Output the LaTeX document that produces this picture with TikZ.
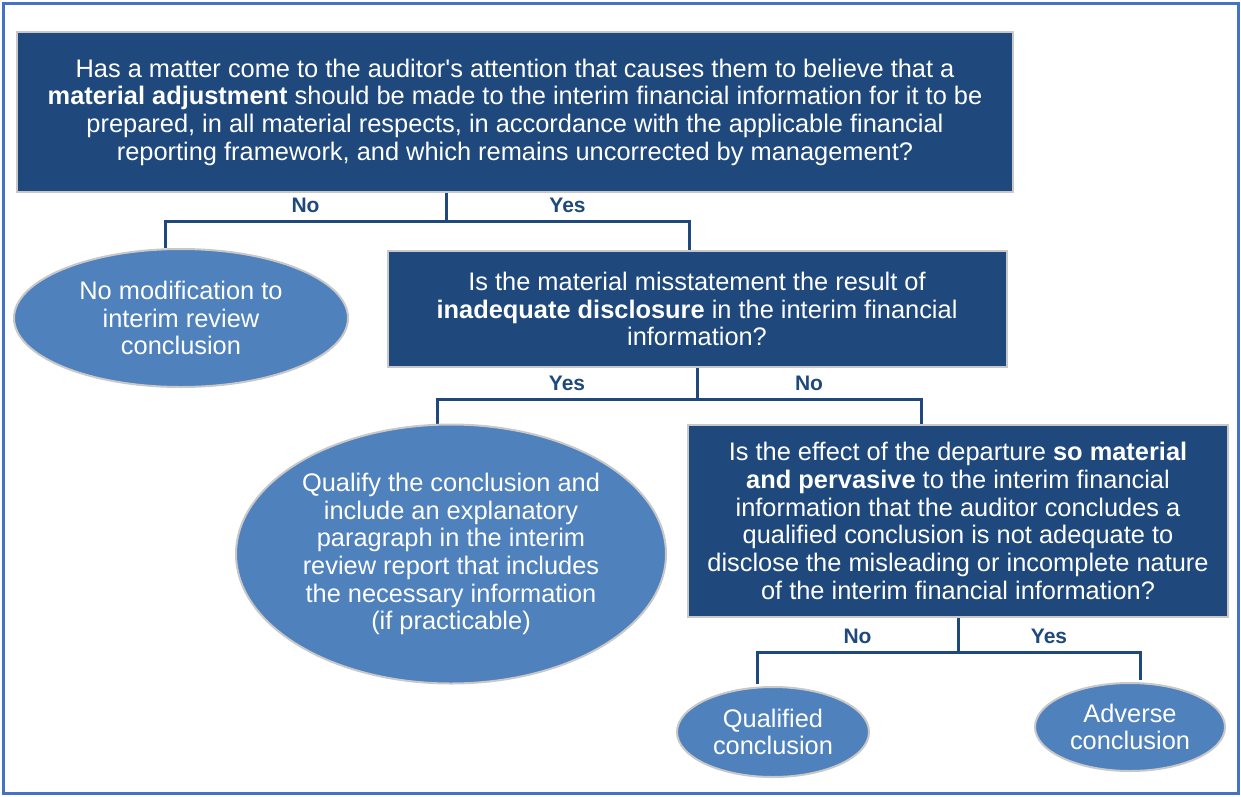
\documentclass[tikz,border=0pt]{standalone}
\usepackage{fontspec}
\setmainfont{Liberation Sans}
\usepackage{tikz}
\usetikzlibrary{shapes.geometric, positioning, calc, backgrounds}
\definecolor{BoxNavy}{HTML}{1F497D}
\definecolor{OvalBlue}{HTML}{4F81BD}
\definecolor{FrameBlue}{HTML}{4472C4}
\definecolor{EdgeGray}{HTML}{C8C8C8}
\newcommand{\keyterm}[1]{\textbf{#1}}
\newcommand{\bodyfont}{\fontsize{25.4}{27.7}\selectfont}

\begin{document}
\begin{tikzpicture}[x=1pt,y=-1pt,
    question/.style={rectangle,fill=BoxNavy,draw=EdgeGray,line width=2pt,
        text=white,font=\bodyfont,align=center,inner sep=0pt},
    outcome/.style={ellipse,fill=OvalBlue,draw=EdgeGray,line width=2pt,
        text=white,font=\bodyfont,align=center,inner sep=0pt},
    link/.style={BoxNavy,line width=3pt},
    answer/.style={text=BoxNavy,font=\fontsize{21}{24}\selectfont\bfseries,
        inner sep=2pt,above=5pt}]
    \useasboundingbox (0,0) rectangle (1241,796);

    % Outer frame
    \draw[FrameBlue,line width=3pt] (3,3) rectangle (1238,793);

    % First question
    \node[question,minimum width=996pt,minimum height=160pt] (q1) at (515,112) {
        Has a matter come to the auditor\textquotesingle s attention that causes them to believe that a\\
        \keyterm{material adjustment} should be made to the interim financial information for it to be\\
        prepared, in all material respects, in accordance with the applicable financial\\
        reporting framework, and which remains uncorrected by management?
    };
    \node[outcome,minimum width=334pt,minimum height=138pt] (e1) at (181,318) {
        No modification to\\ interim review\\ conclusion
    };

    % Second question
    \node[question,minimum width=619pt,minimum height=116pt] (q2) at (697,309) {
        Is the material misstatement the result of\\
        \keyterm{inadequate disclosure} in the interim financial\\
        information?
    };
    \node[outcome,minimum width=430pt,minimum height=259pt] (e2) at (451,554) {
        Qualify the conclusion and\\ include an explanatory\\ paragraph in the interim\\
        review report that includes\\ the necessary information\\ (if practicable)
    };

    % Third question
    \node[question,minimum width=540pt,minimum height=192pt] (q3) at (958,521) {
        Is the effect of the departure \keyterm{so material}\\
        \keyterm{and pervasive} to the interim financial\\
        information that the auditor concludes a\\
        qualified conclusion is not adequate to\\
        disclose the misleading or incomplete nature\\
        of the interim financial information?
    };
    \node[outcome,minimum width=192pt,minimum height=90pt] (e3) at (773,732) {
        Qualified\\ conclusion
    };
    \node[outcome,minimum width=190pt,minimum height=88pt] (e4) at (1130,727) {
        Adverse\\ conclusion
    };

    % Branch points
    \coordinate (j1) at (446,221);
    \coordinate (l1) at (165,221);
    \coordinate (r1) at (689,221);
    \coordinate (j2) at (697,399);
    \coordinate (l2) at (437,399);
    \coordinate (r2) at (921,399);
    \coordinate (j3) at (958,652);
    \coordinate (l3) at (757,652);
    \coordinate (r3) at (1140,652);

    % Connectors
    \begin{scope}[on background layer]
        \draw[link] (j1 |- q1.south) -- (j1);
        \draw[link] (l1 |- e1.north) -- (l1) -- node[answer] {No} (j1)
            -- node[answer] {Yes} (r1) -- (r1 |- q2.north);
        \draw[link] (j2 |- q2.south) -- (j2);
        \draw[link] (l2 |- e2.north) -- (l2) -- node[answer] {Yes} (j2)
            -- node[answer] {No} (r2) -- (r2 |- q3.north);
        \draw[link] (j3 |- q3.south) -- (j3);
        \draw[link] ([yshift=2pt]l3 |- e3.north) -- (l3) -- node[answer] {No} (j3)
            -- node[answer] {Yes} (r3) -- ([yshift=2pt]r3 |- e4.north);
    \end{scope}
\end{tikzpicture}
\end{document}
